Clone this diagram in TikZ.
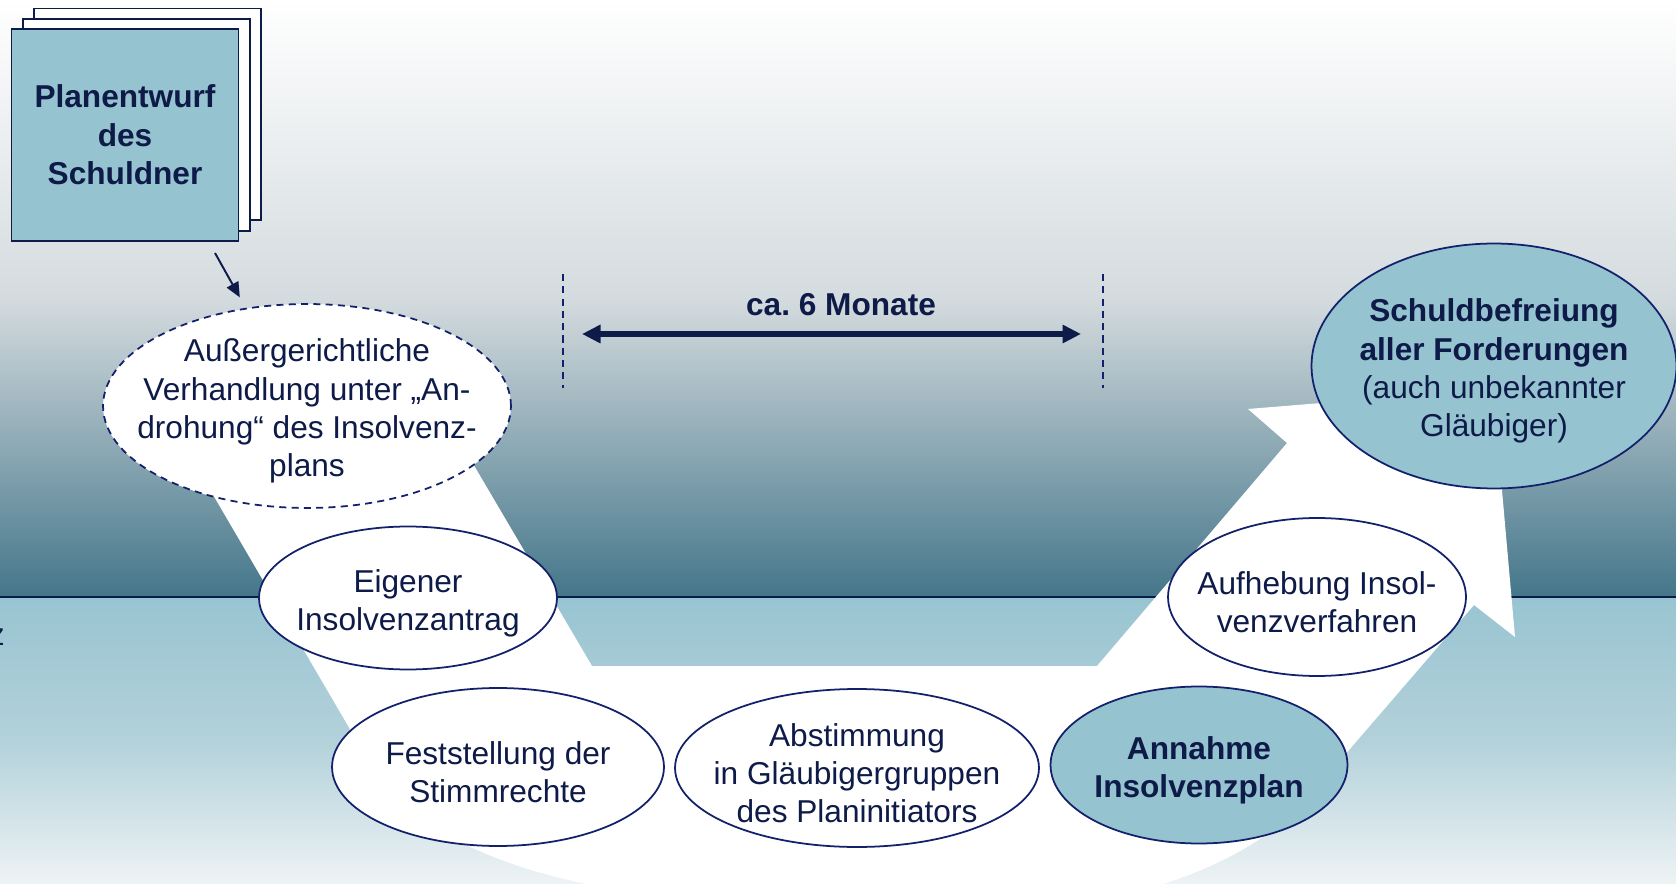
\documentclass[tikz,border=0pt]{standalone}
\usepackage{fontspec}
\setmainfont{Liberation Sans}
\usetikzlibrary{shapes.geometric, arrows.meta}
\definecolor{inkBlue}{HTML}{0E1B48}
\definecolor{lineBlue}{HTML}{13206B}
\definecolor{paleBlue}{HTML}{96C3D0}
\definecolor{skyGrey}{HTML}{D4DBDE}
\definecolor{deepTeal}{HTML}{44768A}
\definecolor{lowBlue}{HTML}{98C4D1}
\definecolor{mistBlue}{HTML}{B3D1DA}
\definecolor{fogWhite}{HTML}{EEF3F5}

\begin{document}
\begin{tikzpicture}[x=0.02cm, y=-0.02cm, >={Triangle[length=0.3cm, width=0.26cm]}]
	\tikzstyle{stageNode} = [ellipse, draw=lineBlue, line width=1pt, fill=white, inner sep=0pt]
	\tikzstyle{keyNode} = [stageNode, fill=paleBlue]
	\tikzstyle{stageText} = [align=center, text=inkBlue, inner sep=0pt, font=\fontsize{18}{21.8}\selectfont]
	\tikzstyle{keyText} = [stageText, font=\fontsize{18}{21.8}\selectfont\bfseries]
	\tikzstyle{stageLabel} = [stageText, yshift=-0.1cm]
	\tikzstyle{keyLabel} = [keyText, yshift=-0.1cm]
	\tikzstyle{pageNode} = [rectangle, draw=inkBlue, line width=1pt, fill=white, minimum width=4.54cm, minimum height=4.24cm]
	\tikzstyle{tickLine} = [lineBlue, line width=1.1pt, dash pattern=on 4pt off 3pt]
	\useasboundingbox (0,0) rectangle (1676,884);
	\clip (0,0) rectangle (1676,884);
	\shade[top color=white, bottom color=skyGrey] (0,0) rectangle (1676,300);
	\shade[top color=skyGrey, bottom color=deepTeal] (0,299) rectangle (1676,597);
	\shade[top color=lowBlue, bottom color=fogWhite, middle color=mistBlue] (0,597) rectangle (1676,884);
	\draw[inkBlue, line width=1.2pt] (0,597) -- (1676,597);
	\fill[white] (181,440) -- (368,760) .. controls (430,865) and (600,905) .. (860,910) -- (1050,910) .. controls (1210,885) and (1285,834) .. (1330,772) -- (1474,605) -- (1515,637) -- (1493,389) -- (1248,409) -- (1287,443) -- (1097,666) -- (592,666) -- (459,440) -- cycle;

	\foreach \d in {2,1}
		\node[pageNode] (page\d) at ({125+11.3*\d},{135-10.3*\d}) {};
	\node[pageNode, fill=paleBlue, keyText] (draft) at (125,135) {Planentwurf\\des\\Schuldner};

	\node[stageNode, dash pattern=on 4pt off 3pt, minimum width=8.16cm, minimum height=4.08cm, label={[stageLabel]center:{Außergerichtliche\\Verhandlung unter „An-\\drohung“ des Insolvenz-\\plans}}] (plan) at (307,406) {};
	\node[stageNode, minimum width=5.96cm, minimum height=2.86cm, label={[stageLabel]center:{Eigener\\Insolvenzantrag}}] (antrag) at (408,598) {};
	\node[stageNode, minimum width=6.64cm, minimum height=3.16cm, label={[stageLabel]center:{Feststellung der\\Stimmrechte}}] (stimmrecht) at (498,767) {};
	\node[stageNode, minimum width=7.28cm, minimum height=3.16cm, label={[stageLabel]center:{Abstimmung\\in Gläubigergruppen\\des Planinitiators}}] (abstimmung) at (857,768) {};
	\node[keyNode, minimum width=5.94cm, minimum height=3.14cm, label={[keyLabel]center:{Annahme\\Insolvenzplan}}] (annahme) at (1199,765) {};
	\node[stageNode, minimum width=5.96cm, minimum height=3.16cm, label={[stageLabel]center:{Aufhebung Insol-\\venzverfahren}}] (aufhebung) at (1317,597) {};
	\node[keyNode, minimum width=7.3cm, minimum height=4.9cm, label={[stageLabel]center:{\textbf{Schuldbefreiung}\\\textbf{aller Forderungen}\\(auch unbekannter\\Gläubiger)}}] (befreiung) at (1494,366) {};

	\coordinate (draftTail) at (215,253);
	\draw[->, inkBlue, line width=1.1pt, shorten >=0.24cm] (draftTail) -- (plan.122);

	\foreach \x in {563,1103}
		\draw[tickLine] (\x,274) -- (\x,388);
	\coordinate (spanStart) at (582,334);
	\coordinate (spanEnd) at (1081,334);
	\draw[{Triangle[length=0.37cm, width=0.35cm]}-{Triangle[length=0.37cm, width=0.35cm]}, inkBlue, line width=3pt] (spanStart) -- (spanEnd);
	\node[keyText] (span) at (841,305) {ca.\ 6 Monate};

	\node[stageText, anchor=base east] (edgeText) at (5,645) {z};
\end{tikzpicture}
\end{document}
